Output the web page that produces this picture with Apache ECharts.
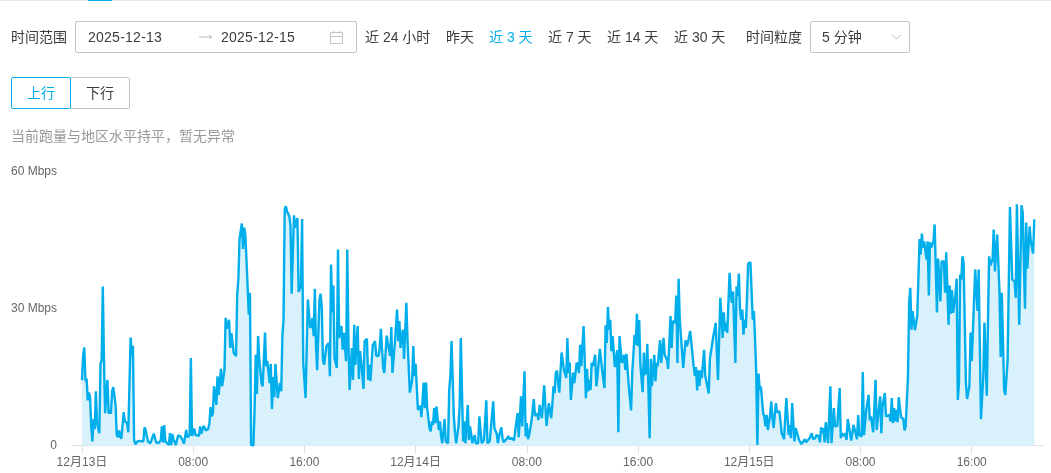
<!DOCTYPE html>
<html><head><meta charset="utf-8">
<script src="https://cdn.jsdelivr.net/npm/echarts@6/dist/echarts.min.js"></script>
<style>
html,body{margin:0;padding:0;background:#fff;width:1051px;height:473px;overflow:hidden}
body{font-family:"Liberation Sans","Noto Sans CJK SC",sans-serif;font-size:14px;color:#3c3c3c}
#chart{position:absolute;left:0;top:0;width:1051px;height:473px}
.t{position:absolute;white-space:nowrap;line-height:20px;z-index:2}
.b{position:absolute;border:1px solid #c4c4c4;border-radius:2px;box-sizing:border-box;z-index:2;background:#fff}
.blue{color:#00aeec}
svg{position:absolute;z-index:3}
</style></head><body>
<div id="chart"></div>
<div style="position:absolute;left:0;top:0;width:1051px;height:1px;background:#e6e6e6;z-index:2"></div>
<div style="position:absolute;left:88px;top:0;width:24px;height:1px;background:#00aeec;z-index:3"></div>
<div class="t" style="left:11px;top:27px">时间范围</div>
<div class="b" style="left:75px;top:21px;width:282px;height:32px"></div>
<div class="t" style="left:88px;top:27px;letter-spacing:.25px">2025-12-13</div>
<svg style="left:199px;top:33px" width="15" height="8"><path d="M0 4H12M10 2L13 4L10 6" stroke="#bbb" fill="none"/></svg>
<div class="t" style="left:221px;top:27px;letter-spacing:.25px">2025-12-15</div>
<svg style="left:329px;top:30px" width="15" height="15"><path d="M1.5 2.5H13.5V13.5H1.5ZM1.5 6.5H13.5M4.5 1V3.5M10.5 1V3.5" stroke="#c4c4c4" fill="none"/></svg>
<div class="t" style="left:365px;top:27px">近 24 小时</div>
<div class="t" style="left:446px;top:27px">昨天</div>
<div class="t blue" style="left:489px;top:27px">近 3 天</div>
<div class="t" style="left:548px;top:27px">近 7 天</div>
<div class="t" style="left:607px;top:27px">近 14 天</div>
<div class="t" style="left:674px;top:27px">近 30 天</div>
<div class="t" style="left:746px;top:27px">时间粒度</div>
<div class="b" style="left:810px;top:21px;width:100px;height:32px"></div>
<div class="t" style="left:822px;top:27px">5 分钟</div>
<svg style="left:890px;top:33px" width="13" height="8"><path d="M2 1.5L6.5 6L11 1.5" stroke="#bbb" fill="none"/></svg>
<div class="b" style="left:70px;top:77px;width:60px;height:32px"></div>
<div class="b" style="left:11px;top:77px;width:60px;height:32px;border-color:#00aeec"></div>
<div class="t blue" style="left:27px;top:83px">上行</div>
<div class="t" style="left:86px;top:83px">下行</div>
<div class="t" style="left:11px;top:126px;color:#999">当前跑量与地区水平持平，暂无异常</div>
<script>
// [5-minute slot since 12-13 00:00, upstream Mbps]
const upDec13 = [[0,14.3],[1,19.6],[2,21.5],[3,14.1],[4,14.7],[5,9.9],[6,11.6],[7,10.6],[8,4.2],[9,0.9],[10,5.8],[11,3.6],[12,11.9],[13,4.9],[15,2.7],[16,17.9],[17,18.8],[18,34.9],[19,18.8],[20,7.1],[21,7.1],[22,14.4],[23,7.0],[24,7.8],[25,7.0],[26,11.9],[27,12.8],[29,8.9],[30,2.3],[31,1.8],[32,3.3],[33,2.0],[34,1.5],[36,7.3],[37,5.3],[39,4.9],[40,2.9],[42,23.7],[43,19.6],[44,21.9],[45,1.2],[46,0.3],[48,0.9],[50,1.0],[53,0.9],[54,4.0],[55,3.3],[56,3.6],[57,0.9],[59,0.5],[62,2.6],[64,0.7],[66,0.5],[68,1.1],[69,4.2],[70,0.7],[71,4.5],[72,0.9],[73,1.1],[75,0.1],[76,2.7],[77,0.1],[78,2.5],[79,1.4],[81,0.1],[83,2.2],[85,2.0],[87,1.1],[88,0.4],[90,3.4],[91,1.8],[93,2.3],[94,19.2],[95,2.1],[97,3.7],[98,2.3],[101,2.1],[102,4.2],[103,2.6],[105,4.3],[107,3.3],[109,3.6],[110,4.9],[111,8.4],[112,6.4],[113,7.1],[114,13.0],[116,8.9],[117,15.2],[118,11.1],[120,16.8],[121,13.0],[123,16.6],[124,28.0],[125,25.6],[127,27.6],[128,21.4],[129,24.7],[131,20.3],[133,19.6],[134,33.1],[135,36.4],[136,45.3],[137,45.6],[138,48.7],[139,43.1],[140,47.8],[141,46.3],[142,40.8],[144,28.7],[145,33.5],[146,0.1],[148,0],[149,8.0],[150,19.9],[151,11.3],[152,24.0],[153,19.0],[154,19.1],[155,13.7],[156,13.0],[158,24.8],[159,17.4],[160,18.5],[162,13.7],[163,17.9],[164,8.0],[165,15.0],[166,10.6],[167,17.9],[169,10.4],[170,10.6],[171,13.8],[172,11.9],[173,24.0],[174,27.6],[175,51.8],[176,52.5],[177,51.4],[179,50.3],[180,48.1],[181,33.3],[183,50.5],[184,47.8],[186,49.9],[187,33.7],[188,34.4],[189,34.9],[190,49.7],[191,18.1],[192,14.4],[193,10.4],[195,32.0],[196,32.4],[197,25.8],[198,26.3],[199,28.0],[200,24.0],[201,34.4],[202,21.8],[203,16.5],[205,32.0],[206,33.3],[207,30.2],[208,18.8],[209,17.7],[211,21.8],[213,22.5],[214,15.2],[215,39.7],[216,29.2],[217,35.1],[218,19.2],[220,17.0],[221,43.0],[222,23.6],[224,26.2],[225,21.0],[226,24.7],[228,18.5],[229,43.0],[230,23.2],[231,12.2],[233,21.4],[234,14.4],[235,26.5],[236,17.7],[238,26.2],[239,14.6],[240,20.7],[241,18.5],[242,18.5],[243,12.4],[244,22.9],[246,23.4],[247,14.4],[248,17.7],[249,14.1],[251,22.0],[253,22.9],[254,19.6],[256,19.7],[257,21.4],[258,25.6],[260,17.0],[261,15.9],[263,24.1],[264,22.5],[266,19.6],[267,26.0],[268,15.9],[270,22.1],[272,29.8],[273,22.9],[274,27.3],[275,21.4],[277,25.4],[278,19.0],[280,31.3],[281,23.2],[283,11.6],[285,14.4],[286,21.8],[287,15.2]];
const upDec14 = [[288,17.9],[290,7.8],[292,8.7],[293,6.2],[295,13.8],[296,8.2],[297,13.8],[298,8.2],[300,3.8],[301,3.1],[302,5.3],[303,4.5],[304,8.2],[305,4.9],[306,8.6],[308,3.4],[309,5.3],[310,2.0],[311,0.5],[313,5.8],[314,0.9],[316,0.5],[317,12.2],[318,15.2],[319,22.9],[321,6.4],[322,2.7],[323,0.5],[325,4.2],[326,8.6],[327,23.6],[329,0.9],[330,5.3],[331,0.5],[332,4.2],[333,8.9],[334,1.2],[335,4.2],[337,0.5],[339,2.3],[340,0.5],[342,0.5],[343,6.4],[344,6.7],[345,0.5],[347,1.2],[349,9.9],[350,0.5],[352,0.9],[353,1.2],[355,9.7],[356,3.8],[358,2.6],[359,0.5],[360,2.0],[362,4.0],[363,1.6],[364,0.7],[367,1.6],[368,2.1],[369,1.4],[371,1.6],[373,1.1],[374,3.3],[375,3.4],[376,7.1],[377,1.8],[379,10.8],[380,4.2],[382,16.3],[383,2.0],[384,4.9],[385,1.4],[386,2.3],[388,5.3],[390,10.2],[391,6.5],[393,7.0],[394,5.6],[395,8.9],[397,6.0],[399,13.2],[401,4.3],[402,4.5],[403,9.3],[405,6.0],[406,8.9],[407,13.0],[408,11.5],[409,15.9],[410,16.4],[412,11.6],[414,20.4],[416,16.6],[417,16.8],[418,14.8],[419,23.6],[420,15.9],[421,18.2],[422,10.0],[424,16.0],[425,13.7],[427,18.2],[428,17.7],[429,15.9],[430,22.1],[431,17.4],[432,17.4],[433,26.2],[435,10.4],[436,16.8],[437,11.9],[438,14.4],[439,12.2],[440,18.2],[441,17.4],[443,19.9],[444,13.0],[445,15.2],[447,21.2],[449,16.6],[451,12.6],[452,26.4],[453,22.5],[454,30.4],[455,25.4],[456,27.6],[457,20.7],[458,24.0],[460,17.2],[462,20.9],[463,2.9],[464,24.0],[465,23.6],[466,18.1],[468,19.9],[469,16.6],[470,20.1],[472,13.0],[474,7.7],[475,15.9],[477,24.3],[478,22.1],[479,28.9],[480,21.8],[481,27.5],[482,17.7],[483,17.4],[484,11.7],[485,20.4],[486,15.5],[487,16.3],[488,22.3],[490,1.6],[491,19.0],[492,13.0],[494,19.9],[495,14.1],[496,18.1],[497,17.4],[499,23.1],[500,18.1],[502,23.6],[503,19.9],[505,18.8],[506,16.8],[508,28.4],[509,21.4],[510,27.3],[512,26.9],[513,32.9],[514,18.1],[515,36.6],[516,27.6],[517,27.6],[519,17.0],[520,16.8],[521,23.1],[522,21.8],[523,22.5],[525,25.1],[528,17.4],[529,15.3],[530,17.2],[531,12.1],[532,16.5],[533,13.1],[534,16.5],[535,14.8],[537,21.0],[538,15.3],[539,15.2],[541,11.4],[542,19.0],[543,19.2],[545,24.0],[547,26.9],[548,26.5],[549,14.4],[551,32.4],[553,23.6],[554,29.2],[555,25.1],[556,26.9],[557,24.7],[559,37.9],[560,33.1],[561,31.3],[562,33.8],[564,18.1],[565,34.9],[566,32.7],[567,37.7],[568,29.8],[569,27.6],[570,29.8],[571,24.3],[572,27.6],[573,25.8],[574,32.0],[575,39.9]];
const upDec15 = [[577,40.2],[579,27.6],[580,29.5],[581,23.2],[582,15.9],[583,0.1],[584,15.8],[585,12.2],[586,13.0],[588,7.1],[589,6.4],[590,4.2],[591,6.7],[592,3.4],[593,3.3],[594,6.7],[595,9.7],[596,6.0],[597,3.8],[599,9.3],[600,7.3],[602,7.5],[604,2.7],[606,1.4],[608,10.4],[610,2.3],[611,4.5],[612,1.6],[613,9.3],[615,0.9],[616,3.8],[617,4.2],[619,1.2],[621,0.3],[622,0.3],[624,1.4],[625,0.7],[628,1.6],[630,2.7],[631,1.4],[633,1.6],[634,2.3],[636,2.0],[637,0.7],[638,4.0],[639,2.7],[640,3.8],[641,0.7],[642,5.1],[644,0.5],[645,0.5],[646,13.0],[647,0.5],[649,8.2],[650,4.2],[652,4.3],[654,12.6],[655,1.6],[656,2.7],[658,2.1],[659,2.7],[660,1.2],[661,5.8],[662,6.2],[664,1.1],[666,4.5],[669,1.4],[670,6.7],[671,2.3],[673,2.0],[674,16.1],[675,2.3],[677,7.8],[678,8.2],[679,11.1],[680,5.5],[681,6.4],[683,2.9],[685,14.4],[686,3.4],[687,3.6],[689,10.8],[690,2.7],[691,8.6],[692,8.9],[693,11.5],[694,6.4],[695,6.2],[697,6.7],[698,5.3],[699,10.4],[700,4.9],[701,8.2],[702,5.3],[703,7.8],[704,5.1],[705,10.6],[706,10.9],[707,6.2],[709,5.8],[710,3.3],[711,4.2],[713,15.2],[714,31.3],[715,34.6],[716,25.4],[717,29.5],[719,25.3],[721,28.4],[723,45.3],[724,41.9],[725,46.5],[726,43.4],[727,44.8],[729,40.8],[730,44.8],[731,32.9],[732,44.6],[733,43.4],[735,44.8],[736,48.5],[738,29.2],[739,41.0],[741,31.6],[742,40.4],[744,40.4],[745,33.5],[746,42.4],[748,26.5],[749,35.1],[750,28.9],[751,34.1],[752,29.1],[754,33.1],[755,36.6],[756,10.0],[757,13.7],[758,37.5],[759,36.4],[760,41.5],[761,40.1],[762,40.1],[763,13.7],[764,10.2],[766,13.0],[767,24.8],[768,18.5],[769,24.7],[771,38.6],[772,39.0],[773,29.5],[774,38.6],[776,5.8],[778,15.2],[779,27.0],[781,10.9],[783,41.5],[784,39.5],[786,40.8],[787,47.4],[788,38.2],[790,46.3],[792,33.5],[793,19.4],[794,33.5],[796,12.2],[797,11.1],[799,18.8],[801,52.3],[802,51.9],[803,36.4],[805,36.0],[806,32.4],[807,52.9],[809,26.5],[811,52.7],[812,51.1],[814,30.0],[815,48.9],[816,38.8],[818,48.1],[819,44.8],[821,42.1],[822,49.6]];
const tickSlots = [0,96,192,288,384,480,576,672,768];
const tickLabels = ['12月13日','08:00','16:00','12月14日','08:00','16:00','12月15日','08:00','16:00'];

const points = upDec13.concat(upDec14,upDec15);
const font = '"Liberation Sans","Noto Sans CJK SC",sans-serif';
const chart = echarts.init(document.getElementById('chart'));
chart.setOption({
  animation:false,
  grid:{left:72,right:7,top:172,bottom:27.5,containLabel:false},
  xAxis:{type:'value',min:-8.6,max:830.4,
    axisLine:{lineStyle:{color:'#e0e0e0',width:1}},
    axisTick:{show:true,length:8,lineStyle:{color:'#e0e0e0'},customValues:tickSlots},
    splitLine:{show:false},
    axisLabel:{color:'#666',fontSize:12,fontFamily:font,margin:11,hideOverlap:false,
      customValues:tickSlots,
      formatter:v=>tickLabels[tickSlots.indexOf(+v)]||''}},
  yAxis:{type:'value',min:0,max:60,interval:30,
    axisLine:{show:false},axisTick:{show:false},splitLine:{show:false},
    axisLabel:{color:'#666',fontSize:12,fontFamily:font,margin:15,padding:[1,0,0,0],
      formatter:v=>v?v+' Mbps':String(v)}},
  series:[{type:'line',data:points,symbol:'none',smooth:false,sampling:null,
    lineStyle:{color:'#00aeec',width:2.4},
    areaStyle:{color:'rgb(217,241,251)',opacity:1},z:2}]
});
</script>
</body></html>
